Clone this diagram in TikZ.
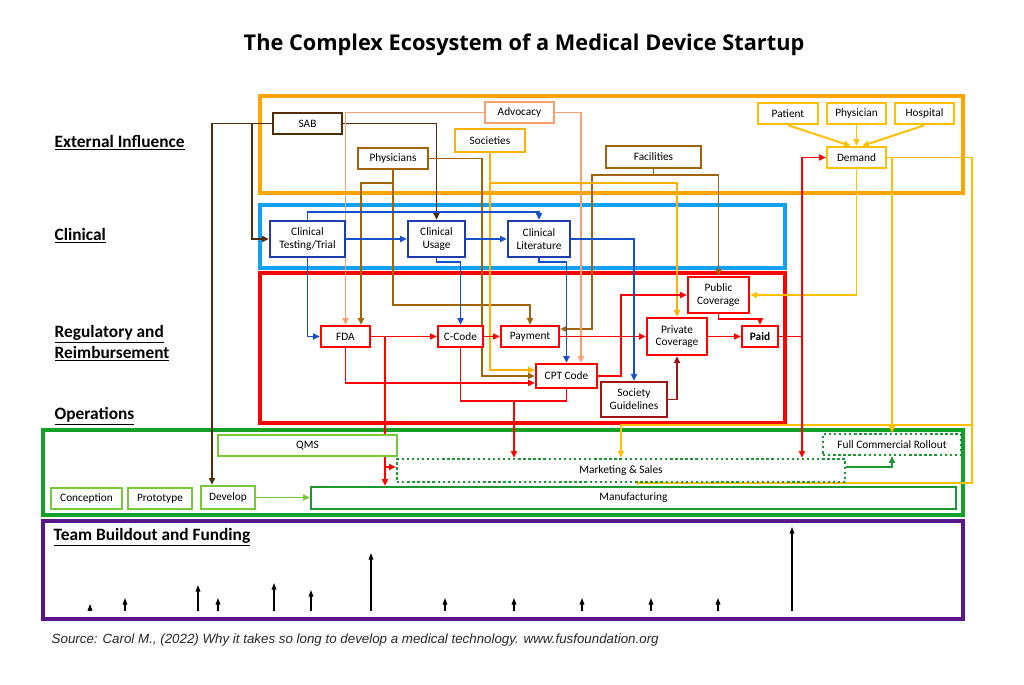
\documentclass[tikz,border=0pt]{standalone}
\usepackage{fontspec}
\setmainfont{Carlito}
\newfontfamily\titlefont{Open Sans}
\newfontfamily\footfont{Liberation Sans}
\usetikzlibrary{arrows.meta,calc}
\definecolor{orangef}{RGB}{255,165,0}
\definecolor{bluef}{RGB}{20,160,240}
\definecolor{redc}{RGB}{255,0,0}
\definecolor{greenf}{RGB}{20,160,40}
\definecolor{purplef}{RGB}{90,20,140}
\definecolor{sabc}{RGB}{80,45,10}
\definecolor{brc}{RGB}{160,100,10}
\definecolor{salc}{RGB}{245,160,110}
\definecolor{goldc}{RGB}{255,176,0}
\definecolor{gold2}{RGB}{255,192,0}
\definecolor{dbluen}{RGB}{30,60,170}
\definecolor{bluec}{RGB}{20,80,200}
\definecolor{dredc}{RGB}{160,20,20}
\definecolor{lgc}{RGB}{120,200,60}
\definecolor{dgc}{RGB}{30,150,50}
\definecolor{footc}{RGB}{40,40,40}
\pgfdeclarelayer{frames}
\pgfdeclarelayer{conn}
\pgfsetlayers{frames,conn,main}
\newcommand{\bx}[8]{\node[nb,draw=#6,#8,minimum width={(#4-#2)*0.75pt},minimum height={(#5-#3)*0.75pt}] (#1) at ({(#2+#4)/2},{(#3+#5)/2}) {#7};}
\begin{document}
\begin{tikzpicture}[x=0.75pt,y=-0.75pt,
  frame/.style={line width=3pt},
  nb/.style={draw,line width=1.8pt,fill=white,text=black,inner sep=0pt,align=center,font=\fontsize{8.5}{9.6}\selectfont},
  plain/.style={},
  dotbox/.style={dotted,line width=1.8pt},
  cn/.style={line width=1.45pt,-{Triangle[length=5pt,width=4.5pt]}},
  cl/.style={line width=1.45pt},
  fa/.style={line width=0.9pt,black,-{Triangle[length=5pt,width=3.5pt]}},
  sec/.style={anchor=west,font=\fontsize{13}{15}\selectfont\bfseries}]
\useasboundingbox (0,0) rectangle (1024,685);
\begin{pgfonlayer}{frames}
\fill[white] (0,0) rectangle (1024,685);
\draw[frame,orangef] (260,96) rectangle (963,193);
\draw[frame,bluef] (260,205) rectangle (785,268);
\draw[frame,redc] (260,273) rectangle (785,423);
\draw[frame,greenf] (43,430) rectangle (963,515);
\draw[frame,purplef] (43,521) rectangle (963,619);
\end{pgfonlayer}

\node[font=\titlefont\bfseries\fontsize{16.3}{19}\selectfont] (title) at (524,45) {The Complex Ecosystem of a Medical Device Startup};

\node[sec] (l1) at (50,143) {\underline{External Influence}};
\node[sec] (l2) at (50,236) {\underline{Clinical}};
\node[sec,align=left] (l3) at (50,343) {\underline{Regulatory and}\\[1pt]\underline{Reimbursement}};
\node[sec] (l4) at (50,416) {\underline{Operations}};
\node[sec] (l5) at (49,537) {\underline{Team Buildout and Funding}};

% nodes
\bx{sab}{273}{113}{342}{134}{sabc}{SAB}{plain}
\bx{adv}{485}{102}{554}{123}{salc}{Advocacy}{plain}
\bx{soc}{455}{129}{525}{152}{goldc}{Societies}{plain}
\bx{phy}{358}{148}{428}{169}{brc}{Physicians}{plain}
\bx{fac}{606}{146}{701}{168}{brc}{Facilities}{plain}
\bx{pat}{758}{103}{818}{124}{gold2}{Patient}{plain}
\bx{phn}{827}{103}{886}{124}{gold2}{Physician}{plain}
\bx{hos}{895}{103}{954}{124}{gold2}{Hospital}{plain}
\bx{dem}{827}{147}{886}{168}{gold2}{Demand}{plain}
\bx{ctt}{270}{221}{345}{257}{dbluen}{Clinical\\Testing/Trial}{plain}
\bx{cus}{408}{221}{465}{257}{dbluen}{Clinical\\Usage}{plain}
\bx{cli}{508}{221}{570}{257}{dbluen}{Clinical\\Literature}{plain}
\bx{fda}{321}{326}{370}{347}{redc}{FDA}{plain}
\bx{cco}{438}{326}{483}{347}{redc}{C-Code}{plain}
\bx{pay}{501}{326}{559}{347}{redc}{Payment}{plain}
\bx{cpt}{536}{364}{597}{388}{redc}{CPT Code}{plain}
\bx{sg}{601}{382}{667}{417}{dredc}{Society\\Guidelines}{plain}
\bx{pri}{647}{318}{707}{355}{redc}{Private\\Coverage}{plain}
\bx{pub}{688}{277}{749}{313}{redc}{Public\\Coverage}{plain}
\bx{paid}{742}{326}{778}{347}{redc}{\textbf{Paid}}{plain}
\bx{qms}{218}{435}{397}{456}{lgc}{QMS}{plain}
\bx{mks}{397}{459}{845}{482}{dgc}{Marketing \& Sales}{dotbox}
\bx{fcr}{823}{434}{961}{455}{dgc}{Full Commercial Rollout}{dotbox}
\bx{con}{51}{488}{122}{509}{lgc}{Conception}{plain}
\bx{pro}{128}{488}{192}{509}{lgc}{Prototype}{plain}
\bx{dev}{201}{486}{255}{509}{lgc}{Develop}{plain}
\bx{man}{311}{487}{956}{509}{dgc}{Manufacturing}{plain}

\begin{pgfonlayer}{conn}
% SAB
\coordinate (s1) at (212,123.5);
\coordinate (s2) at (252,123.5);
\draw[cn,sabc] (sab.west) -- (s1) -- (s1 |- dev.north);
\draw[cn,sabc] (s2) |- (ctt.west);
\draw[cn,sabc] (sab.east) -| (cus.north);
% Physicians
\draw[cn,brc] (phy.south) -- (393,305) -| (pay.north);
\draw[cn,brc] (393,183) -| ($(fda.north)+(15.5,0)$);
\draw[cn,brc] (phy.east) -| (482,376) -- (cpt.west);
% Facilities
\draw[cn,brc] (fac.south) -- (653.5,175) -| (pub.north);
\draw[cn,brc] (653.5,175) -| (592,329) -- ($(pay.east)+(0,-7.5)$);
% Advocacy
\draw[cn,salc] (adv.west) -| (fda.north);
\draw[cn,salc] (adv.east) -| ($(cpt.north)+(14.5,0)$);
% Societies
\draw[cn,goldc] (soc.south) -- (490,370) -- ($(cpt.west)+(0,-6)$);
\draw[cn,goldc] (490,183) -| (pri.north);
% Demand group
\draw[cn,gold2] (pat.south) -- ($(dem.north)+(-6,0)$);
\draw[cn,gold2] (phn.south) -- (dem.north);
\draw[cn,gold2] (hos.south) -- ($(dem.north)+(6,0)$);
\draw[cn,gold2] (dem.south) |- (pub.east);
\draw[cn,gold2] (dem.east) -- (972,157.5) -- (972,483) -| ($(man.north)+(4.5,0)$);
\draw[cn,gold2] (892,157.5) -- (fcr.north);
\draw[cn,gold2] (972,425) -| (mks.north);
% Red
\coordinate (r1) at (385,336.5);
\draw[cn,redc] (fda.east) -- (cco.west);
\draw[cn,redc] (r1) -- (r1 |- man.north);
\draw[cn,redc] (385,467) -- ($(mks.west)+(0,-3.5)$);
\draw[cn,redc] (cco.east) -- (pay.west);
\draw[cl,redc] (cco.south) -- (460.5,401) -| (cpt.south);
\coordinate (r2) at (514,401);
\draw[cn,redc] (r2) -- (r2 |- mks.north);
\draw[cn,redc] (fda.south) -- (345.5,383) -- ($(cpt.west)+(0,7)$);
\draw[cn,redc] (pay.east) -- (pri.west);
\draw[cn,redc] (cpt.east) -| (621,295) -- (pub.west);
\draw[cn,redc] (pri.east) -- (paid.west);
\draw[cn,redc] (pub.south) -- (718.5,319) -| (paid.north);
\coordinate (r3) at (802,336.5);
\draw[cn,redc] (paid.east) -- (r3) |- (dem.west);
\draw[cn,redc] (r3) -- (r3 |- mks.north);
% Society guidelines
\draw[cn,dredc] (sg.east) -| (pri.south);
% Blue
\draw[cn,bluec] (ctt.east) -- (cus.west);
\draw[cn,bluec] (cus.east) -- (cli.west);
\draw[cn,bluec] (ctt.north) -- (307.5,212) -| (cli.north);
\draw[cn,bluec] (cli.east) -| (sg.north);
\draw[cn,bluec] (ctt.south) |- (fda.west);
\draw[cn,bluec] (cus.south) -- (436.5,262) -| (cco.north);
\draw[cn,bluec] (cli.south) -- (539,262) -| (cpt.north);
% Greens
\draw[cn,lgc] (dev.east) -- (man.west |- dev.east);
\draw[cn,dgc] ($(mks.east)+(0,-3.5)$) -| (fcr.south);
\end{pgfonlayer}

% funding arrows
\foreach \x/\t in {90/604,125/598,198/585,218/598,274/583,311/590,371/553,445/598,514/598,582/598,651/598,718/598,792/527}
  \draw[fa] (\x,611) -- (\x,\t);

\node[anchor=west,font=\footfont\itshape\fontsize{10}{12}\selectfont,text=footc] (src) at (47,640) {Source: Carol M., (2022) Why it takes so long to develop a medical technology. www.fusfoundation.org};
\end{tikzpicture}
\end{document}
